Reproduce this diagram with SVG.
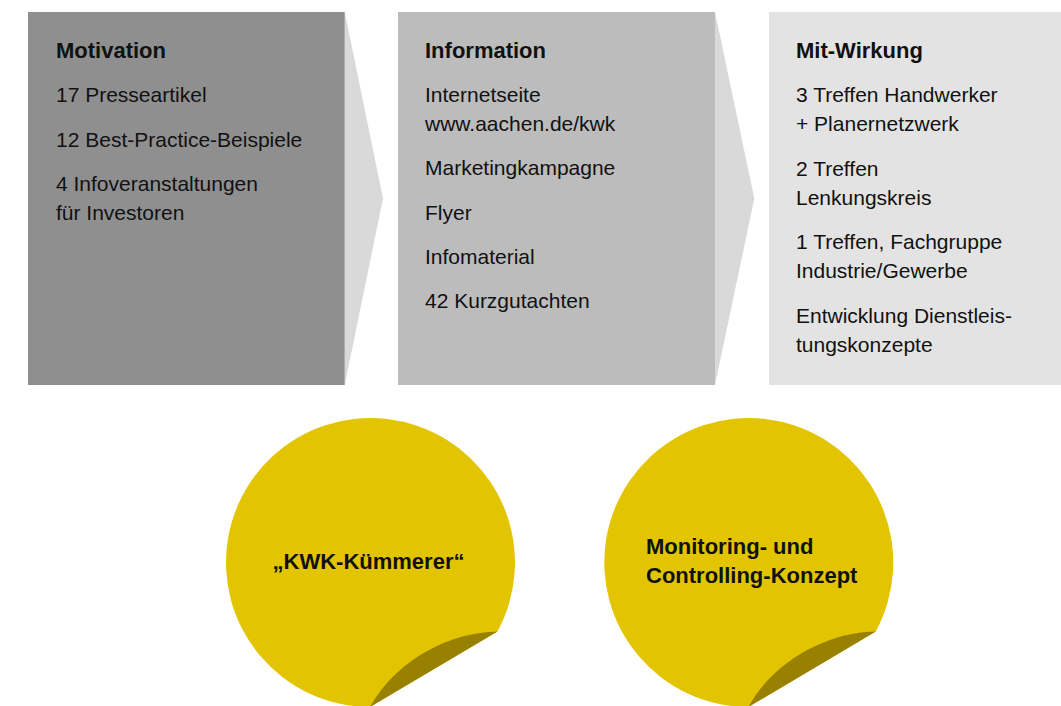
<svg xmlns="http://www.w3.org/2000/svg" xmlns:xlink="http://www.w3.org/1999/xlink" width="1061" height="706" viewBox="0 0 1061 706">
  <style>
    text { font-family: "Liberation Sans", Arial, sans-serif; fill: #111111; }
    .head { font-size: 22px; font-weight: bold; }
    .item { font-size: 21px; }
    .sticker-label { font-size: 22px; font-weight: bold; }
    .chev { fill: #d9d9d9; }
    .disc { fill: #e3c400; }
    .flap { fill: #988000; }
  </style>
  <defs>
    <!-- round sticker with its lower-right edge peeled back -->
    <g id="sticker">
      <path class="disc" d="M497.5,631.4 A144.5,144.5 0 1 0 370,707 Z"/>
      <path class="flap" d="M497.5,631.4 C452,632 397,658 370,707 Z"/>
    </g>
  </defs>

  <!-- chevrons linking the three stages -->
  <g id="connectors">
    <polygon class="chev" points="344.7,12 383,198.5 344.7,385"/>
    <polygon class="chev" points="715,12 754.3,198.5 715,385"/>
  </g>

  <g id="motivation">
    <rect x="28" y="12" width="316.7" height="373" fill="#8f8f8f"/>
    <text class="head" x="56" y="58">Motivation</text>
    <text class="item" x="56" y="102">17 Presseartikel</text>
    <text class="item" x="56" y="147">12 Best-Practice-Beispiele</text>
    <text class="item" x="56" y="191">4 Infoveranstaltungen</text>
    <text class="item" x="56" y="220">für Investoren</text>
  </g>

  <g id="information">
    <rect x="398" y="12" width="317" height="373" fill="#bcbcbc"/>
    <text class="head" x="425" y="58">Information</text>
    <text class="item" x="425" y="102">Internetseite</text>
    <text class="item" x="425" y="131">www.aachen.de/kwk</text>
    <text class="item" x="425" y="175">Marketingkampagne</text>
    <text class="item" x="425" y="220">Flyer</text>
    <text class="item" x="425" y="264">Infomaterial</text>
    <text class="item" x="425" y="308">42 Kurzgutachten</text>
  </g>

  <g id="mitwirkung">
    <rect x="769" y="12" width="292" height="373" fill="#e3e3e3"/>
    <text class="head" x="796" y="58">Mit-Wirkung</text>
    <text class="item" x="796" y="102">3 Treffen Handwerker</text>
    <text class="item" x="796" y="131">+ Planernetzwerk</text>
    <text class="item" x="796" y="176">2 Treffen</text>
    <text class="item" x="796" y="205">Lenkungskreis</text>
    <text class="item" x="796" y="249">1 Treffen, Fachgruppe</text>
    <text class="item" x="796" y="278">Industrie/Gewerbe</text>
    <text class="item" x="796" y="323">Entwicklung Dienstleis-</text>
    <text class="item" x="796" y="352">tungskonzepte</text>
  </g>

  <g id="kuemmerer">
    <use xlink:href="#sticker"/>
    <text class="sticker-label" x="368.5" y="569" text-anchor="middle">„KWK-Kümmerer“</text>
  </g>

  <g id="monitoring">
    <use xlink:href="#sticker" transform="translate(378.3,0)"/>
    <text class="sticker-label" x="646" y="554">Monitoring- und</text>
    <text class="sticker-label" x="646" y="583">Controlling-Konzept</text>
  </g>
</svg>
